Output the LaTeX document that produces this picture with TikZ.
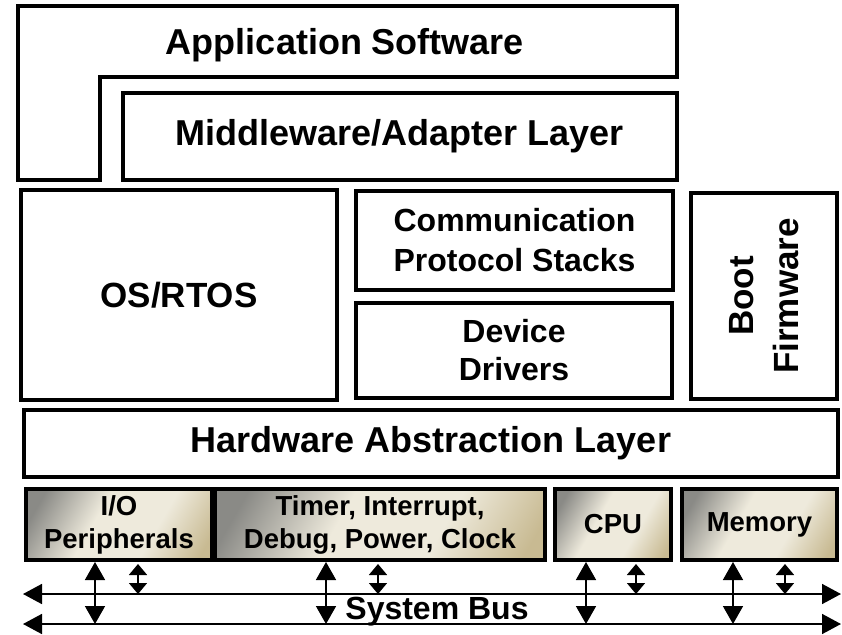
\documentclass[tikz,border=0pt]{standalone}
\usepackage{amsmath,amssymb}
\usepackage{fontspec}
\setmainfont{Liberation Sans}
\usepackage{tikz}
\usetikzlibrary{arrows.meta}

\definecolor{hwgray}{RGB}{138,138,134}
\definecolor{hwcream}{RGB}{238,234,220}
\definecolor{hwtan}{RGB}{200,186,146}
\pgfdeclarehorizontalshading{hwshade}{100bp}{color(0bp)=(hwgray); color(22bp)=(hwgray); color(42bp)=(hwcream); color(62bp)=(hwcream); color(80bp)=(hwtan); color(100bp)=(hwtan)}

\tikzset{
  layer/.style={draw=black,line width=2pt,fill=white,align=center,inner sep=0pt,
    font=\bfseries\fontsize{16}{20}\selectfont},
  hwbox/.style={draw=black,line width=2pt,align=center,inner sep=0pt,
    shade,shading=hwshade,shading angle=-30,font=\bfseries\fontsize{13.75}{16.5}\selectfont},
  bigarr/.style={{Triangle[length=9pt,width=10pt]}-{Triangle[length=9pt,width=10pt]},line width=0.8pt},
  smallarr/.style={{Triangle[length=5.5pt,width=9pt]}-{Triangle[length=5.5pt,width=9pt]},line width=0.8pt},
  busarr/.style={{Triangle[length=9.5pt,width=10pt]}-{Triangle[length=9.5pt,width=10pt]},line width=0.8pt}
}

\begin{document}
\begin{tikzpicture}[x=0.5pt,y=-0.5pt]
      \useasboundingbox (0,0) rectangle (842,634);
      \draw[line width=2pt,line join=miter] (18,6) -- (677,6) -- (677,77) -- (100,77) -- (100,180) -- (18,180) -- cycle;
      \node[font=\bfseries\fontsize{18}{22}\selectfont] (app) at (345,45) {Application Software};
      \node[layer,minimum width=277pt,minimum height=43.5pt,font=\bfseries\fontsize{18}{22}\selectfont] (mid) at (399.5,136.5) {Middleware/Adapter Layer};
      \node[layer,minimum width=158pt,minimum height=105pt,font=\bfseries\fontsize{17.5}{21}\selectfont] (os) at (179,295) {OS/RTOS};
      \node[layer,minimum width=158.5pt,minimum height=49.5pt] (comm) at (514.5,240.5) {Communication\\Protocol Stacks};
      \node[layer,minimum width=158pt,minimum height=47.5pt,font=\bfseries\fontsize{16}{19}\selectfont] (drv) at (514,350.5) {Device\\Drivers};
      \node[layer,rotate=90,minimum width=103pt,minimum height=73pt,font=\bfseries\fontsize{17.5}{22.5}\selectfont] (boot) at (764,296) {Boot\\Firmware};
      \node[layer,minimum width=407pt,minimum height=33.5pt,font=\bfseries\fontsize{18}{22}\selectfont] (hal) at (431,443.5) {Hardware Abstraction Layer};
      \node[hwbox,minimum width=93pt,minimum height=35.5pt] (io) at (119,524.5) {I/O\\Peripherals};
      \node[hwbox,minimum width=165pt,minimum height=35.5pt] (tim) at (380,524.5) {Timer, Interrupt,\\Debug, Power, Clock};
      \node[hwbox,minimum width=58pt,minimum height=35.5pt] (cpu) at (613,524.5) {CPU};
      \node[hwbox,minimum width=77.5pt,minimum height=35.5pt] (mem) at (759.5,524.5) {Memory};
      \coordinate (busAl) at (23,594);
      \coordinate (busAr) at (841,594);
      \coordinate (busBl) at (23,624);
      \coordinate (busBr) at (841,624);
      \draw[busarr] (busAl) -- (busAr);
      \draw[busarr] (busBl) -- (busBr);
      \node[font=\bfseries\fontsize{16}{19}\selectfont] (bus) at (437,612) {System Bus};
      \foreach \b/\l/\s in {io/35.5/57,tim/56.5/82.5,cpu/16.5/41.5,mem/26.5/52.5}{
        \draw[bigarr] ([xshift=\l pt]\b.south west) -- ([xshift=\l pt]\b.south west |- busBl);
        \draw[smallarr] ([xshift=\s pt,yshift=-1pt]\b.south west) -- ([xshift=\s pt]\b.south west |- busAl);
      }
\end{tikzpicture}
\end{document}
